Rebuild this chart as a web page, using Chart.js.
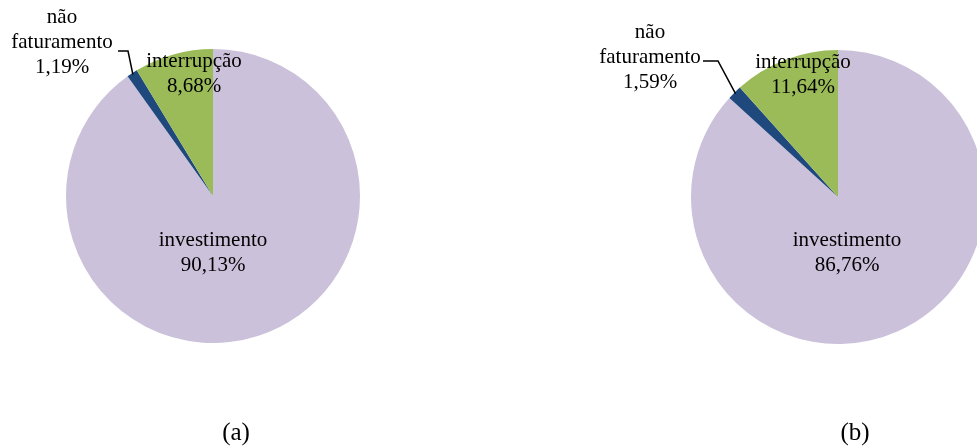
<!DOCTYPE html>
<html>
<head>
<meta charset="utf-8">
<script src="https://cdn.jsdelivr.net/npm/chart.js@4.4.0/dist/chart.umd.min.js"></script>
<style>
  body { margin: 0; width: 977px; height: 448px; overflow: hidden; background: #fff; position: relative; }
  canvas { position: absolute; left: 0; top: 0; }
  .sub { position: absolute; font-family: "Liberation Serif", serif; font-size: 25px; line-height: 25px; color: #000; transform: translateX(-50%); }
</style>
</head>
<body>
<canvas id="pieA" width="977" height="448"></canvas>
<canvas id="pieB" width="977" height="448"></canvas>
<div class="sub" style="left:236px; top:419px">(a)</div>
<div class="sub" style="left:855px; top:419px">(b)</div>
<script>
// data
const categories = ['investimento', 'não faturamento', 'interrupção'];
const valuesA = [90.13, 1.19, 8.68];
const valuesB = [86.76, 1.59, 11.64];
const colors = ['#CCC1DA', '#1F497D', '#9BBB59'];

// label text wrapping as in the original
const wrapLabel = [false, true, false];

// label anchors (first baseline) relative to pie centre, and leader line bends
const layoutA = {
  center: [213, 196],
  labels: [[0, 50], [-151, -173], [-19, -129]],
  leader: [[-95, -145], [-85, -145]]
};
const layoutB = {
  center: [838, 197],
  labels: [[9, 49], [-188, -159], [-35, -129]],
  leader: [[-135, -136], [-120, -136]]
};
const radius = 147;

const fmt = v => v.toFixed(2).replace('.', ',') + '%';

const labelPlugin = {
  id: 'pieLabels',
  afterDatasetsDraw(chart) {
    const lay = chart.options.plugins.pieLabels;
    const meta = chart.getDatasetMeta(0);
    const arcs = meta.data;
    const values = chart.data.datasets[0].data;
    const cx = arcs[0].x, cy = arcs[0].y, r = arcs[0].outerRadius;
    const ctx = chart.ctx;
    ctx.save();

    // leader line to the small slice
    const small = arcs[1];
    const mid = (small.startAngle + small.endAngle) / 2;
    ctx.strokeStyle = '#000';
    ctx.lineWidth = 1.5;
    ctx.beginPath();
    ctx.moveTo(cx + lay.leader[0][0], cy + lay.leader[0][1]);
    ctx.lineTo(cx + lay.leader[1][0], cy + lay.leader[1][1]);
    ctx.lineTo(cx + Math.cos(mid) * r * 0.99, cy + Math.sin(mid) * r * 0.99);
    ctx.stroke();

    ctx.font = '21px "Liberation Serif", serif';
    ctx.fillStyle = '#000';
    ctx.textAlign = 'center';
    ctx.textBaseline = 'alphabetic';
    chart.data.labels.forEach((name, i) => {
      const lines = wrapLabel[i] ? name.split(' ') : [name];
      lines.push(fmt(values[i]));
      const x = cx + lay.labels[i][0];
      let y = cy + lay.labels[i][1];
      lines.forEach(line => {
        ctx.fillText(line, x, y);
        y += 25;
      });
    });
    ctx.restore();
  }
};

function makePie(id, values, lay) {
  const w = 977, h = 448;
  const [cx, cy] = lay.center;
  // chart area centred on the pie centre; radius is set explicitly
  const half = Math.min(cx, w - cx, cy, h - cy);
  new Chart(document.getElementById(id), {
    type: 'pie',
    data: {
      labels: categories,
      datasets: [{
        data: values,
        backgroundColor: colors,
        borderWidth: 0,
        radius: radius,
        clip: false,
        hoverOffset: 0
      }]
    },
    options: {
      responsive: false,
      animation: false,
      devicePixelRatio: 1,
      layout: {
        padding: { left: cx - half, right: w - cx - half, top: cy - half, bottom: h - cy - half }
      },
      plugins: {
        legend: { display: false },
        tooltip: { enabled: false },
        pieLabels: lay
      }
    },
    plugins: [labelPlugin]
  });
}

makePie('pieA', valuesA, layoutA);
makePie('pieB', valuesB, layoutB);
</script>
</body>
</html>
